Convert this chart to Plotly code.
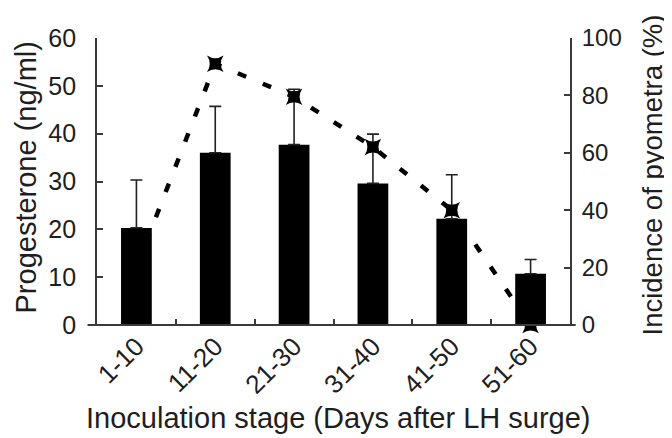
import plotly.graph_objects as go

stages = ["1-10", "11-20", "21-30", "31-40", "41-50", "51-60"]
progesterone = [20.3, 36.0, 37.7, 29.6, 22.2, 10.7]
progesterone_sd = [10.0, 9.7, 11.6, 10.3, 9.2, 3.0]
pyometra_pct = [20, 91, 79.5, 62, 40, 0]

left_ticks = [0, 10, 20, 30, 40, 50, 60]
right_ticks = [0, 20, 40, 60, 80, 100]

x_title = "Inoculation stage (Days after LH surge)"
left_title = "Progesterone (ng/ml)"
right_title = "Incidence of pyometra (%)"

FONT = "Arial, Liberation Sans, Helvetica, sans-serif"
AX = "#3a3a3a"
TXT = "#1e1e1e"

fig = go.Figure()
fig.add_trace(go.Bar(
    x=stages, y=progesterone,
    marker=dict(color="#000000", line=dict(width=0)),
    error_y=dict(type="data", array=progesterone_sd, symmetric=False,
                 arrayminus=[0]*len(stages), color="#222222",
                 thickness=1.6, width=6),
    yaxis="y", showlegend=False,
))
fig.add_trace(go.Scatter(
    x=stages, y=pyometra_pct, mode="lines+markers",
    line=dict(color="#000000", width=4.5, dash="9px,18px"),
    marker=dict(symbol="star-square", size=15, color="#000000"),
    yaxis="y2", showlegend=False, cliponaxis=False,
))

# the page places the figure 8px from the top-left corner (default body margin)
fig.update_layout(
    width=664, height=430,
    margin=dict(l=89, r=102, t=30, b=113, autoexpand=False),
    paper_bgcolor="white", plot_bgcolor="white",
    font=dict(family=FONT, color=TXT),
    bargap=0.61,
    xaxis=dict(
        type="category", tickson="boundaries", ticks="inside", ticklen=6,
        tickcolor=AX, tickwidth=1.5, showline=False, showgrid=False,
        tickangle=-45, tickfont=dict(size=26, family=FONT, color=TXT),
        zeroline=False, automargin=False,
    ),
    yaxis=dict(
        range=[0, 60], tickvals=left_ticks, ticks="inside", ticklen=6,
        tickcolor=AX, tickwidth=1.5, showline=True, linecolor=AX, linewidth=1.8,
        showgrid=False, zeroline=False, ticklabelstandoff=14, automargin=False,
        tickfont=dict(size=25, family=FONT, color=TXT),
    ),
    yaxis2=dict(
        range=[0, 100], tickvals=right_ticks, ticks="inside", ticklen=6,
        tickcolor=AX, tickwidth=1.5, showline=True, linecolor=AX, linewidth=1.8,
        overlaying="y", side="right", showgrid=False, zeroline=False,
        ticklabelstandoff=5, automargin=False,
        tickfont=dict(size=24, family=FONT, color=TXT),
    ),
    shapes=[dict(type="line", xref="paper", yref="paper", x0=-0.02, x1=1.012,
                 y0=0, y1=0, line=dict(color=AX, width=1.8), layer="above")],
    annotations=[
        dict(text=x_title, xref="paper", yref="paper", x=0.5, y=0,
             xanchor="center", yanchor="middle", xshift=5, yshift=-93,
             showarrow=False, font=dict(size=29, family=FONT, color=TXT)),
        dict(text=left_title, xref="paper", yref="paper", x=0, y=0.5,
             xanchor="center", yanchor="middle", xshift=-72, yshift=4,
             textangle=-90, showarrow=False,
             font=dict(size=29, family=FONT, color=TXT)),
        dict(text=right_title, xref="paper", yref="paper", x=1, y=0.5,
             xanchor="center", yanchor="middle", xshift=82, yshift=6,
             textangle=-90, showarrow=False,
             font=dict(size=27.5, family=FONT, color=TXT)),
    ],
)

fig.write_html("out.html")
